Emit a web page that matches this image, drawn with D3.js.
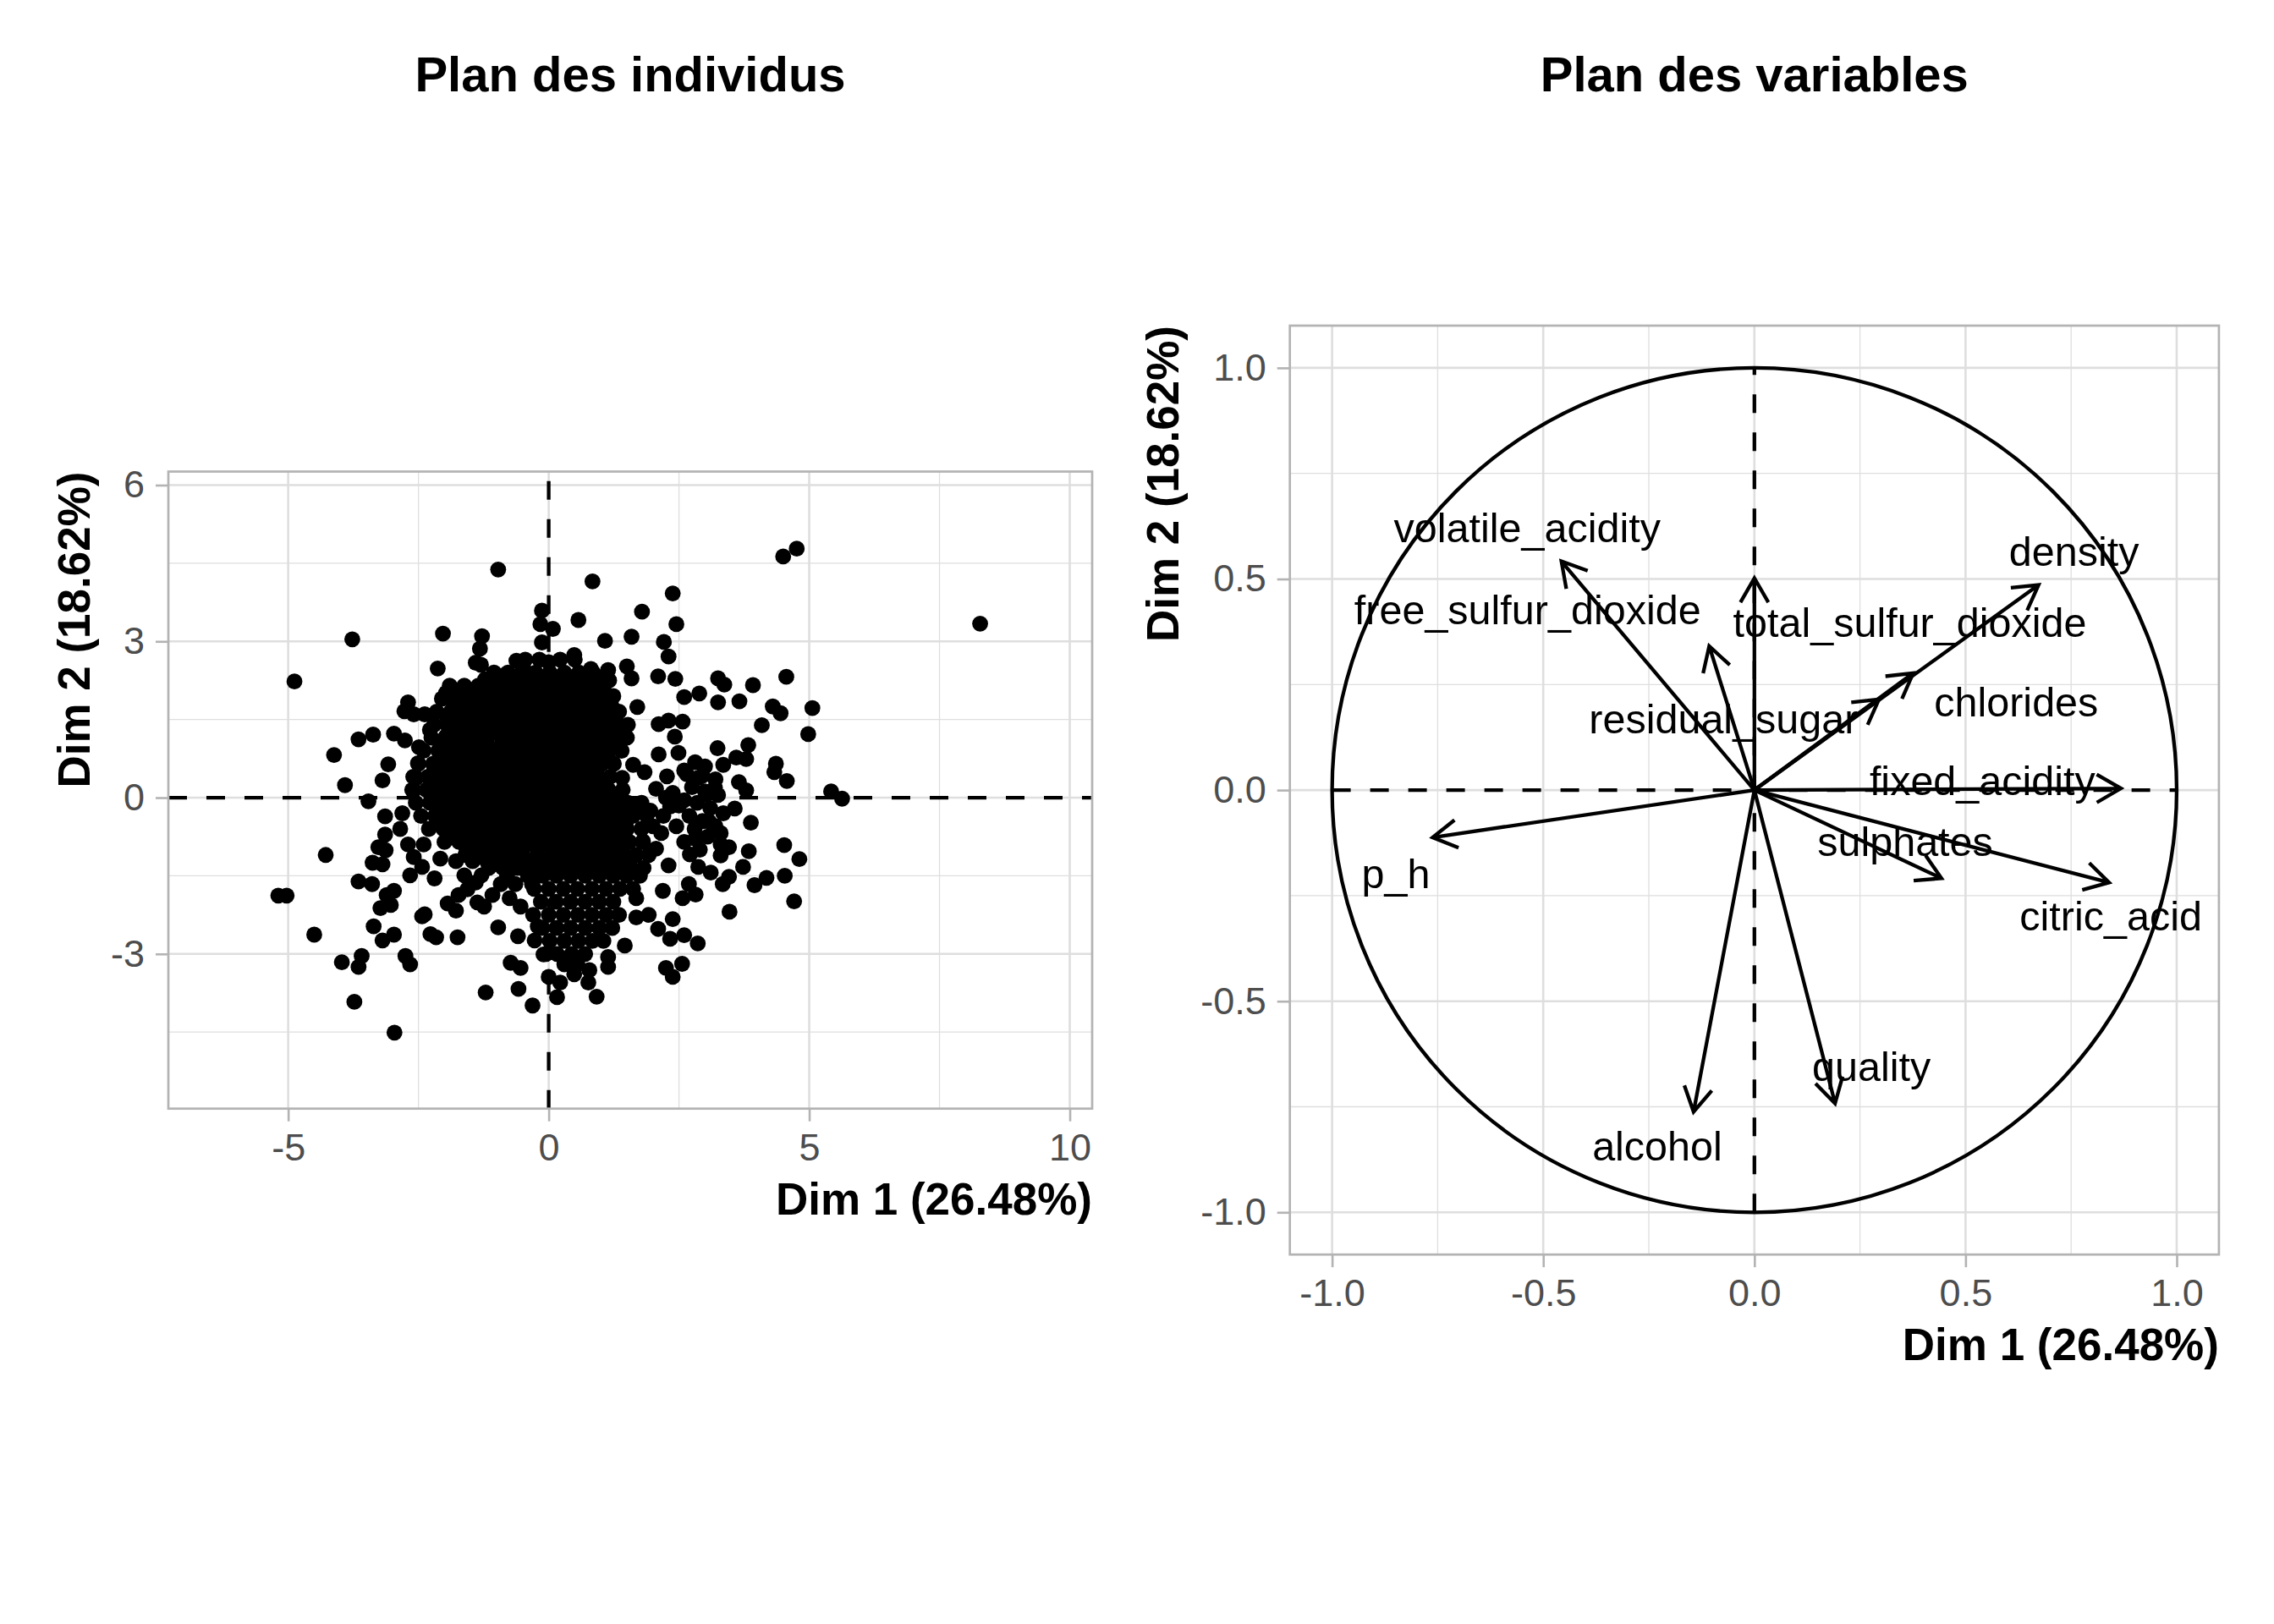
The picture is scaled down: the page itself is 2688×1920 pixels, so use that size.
<!DOCTYPE html>
<html>
<head>
<meta charset="utf-8">
<script src="https://cdn.jsdelivr.net/npm/d3@7"></script>
<style>
  body { margin: 0; background: #fff; }
  text { font-family: "Liberation Sans", Arial, Helvetica, sans-serif; }
</style>
</head>
<body>
<svg id="chart" width="2688" height="1920"></svg>
<script>
// ---- individuals (Dim 1, Dim 2) ----
const scatteredPoints = [
  [-0.97,4.38],[-3.77,3.04],[-4.88,2.23],[-2.03,3.15],[-1.28,3.10],[-1.32,2.86],[-1.40,2.59],[-1.30,2.55],
  [-2.13,2.48],[-0.13,3.59],[-0.16,3.33],[-0.13,2.98],[-0.62,2.63],[-0.43,2.41],[-0.86,2.35],[-1.97,2.01],
  [-1.84,2.03],[-1.37,2.01],[-1.63,1.89],[-2.70,1.83],[-2.77,1.66],[-2.59,1.60],[-2.38,1.60],[-2.28,1.30],
  [-3.37,1.21],[-3.65,1.12],[-2.97,1.23],[-2.76,1.10],[-2.49,0.97],[-4.12,0.82],[-3.08,0.64],[-3.19,0.33],
  [-3.91,0.24],[-2.51,0.66],[-2.19,0.58],[-2.54,0.38],[-2.59,0.14],[-3.46,-0.07],[-1.94,1.52],[-1.97,1.18],
  [-2.05,0.28],[-0.75,2.06],[-1.08,2.12],[0.00,2.60],
  [4.76,4.78],[4.50,4.63],[0.84,4.15],[2.38,3.92],[1.79,3.57],[0.57,3.41],[0.08,3.24],[2.45,3.33],
  [1.59,3.09],[1.08,3.01],[2.21,2.99],[2.30,2.71],[0.49,2.74],[1.50,2.52],[1.59,2.29],[1.14,2.45],
  [1.16,2.25],[2.10,2.33],[2.43,2.28],[0.81,2.47],[3.25,2.29],[3.37,2.17],[3.92,2.16],[4.56,2.32],
  [2.60,1.93],[2.89,2.00],[3.25,1.83],[3.66,1.85],[4.30,1.75],[4.45,1.62],[5.06,1.72],[4.09,1.39],
  [4.98,1.22],[1.70,1.74],[1.24,1.95],[2.11,1.41],[2.30,1.48],[2.57,1.46],[2.42,1.17],[2.11,0.83],
  [2.49,0.86],[3.24,0.95],[3.83,1.01],[3.60,0.77],[3.79,0.74],[4.36,0.65],[4.33,0.49],[4.57,0.32],
  [5.42,0.12],[2.81,0.68],[3.00,0.60],[3.35,0.63],[3.65,0.30],[3.79,0.14],[2.60,0.52],[2.87,0.38],
  [3.19,0.19],[2.27,0.41],[1.84,0.49],[1.62,0.63],[1.35,1.03],[1.33,1.41],[1.14,1.52],[0.92,1.79],
  [1.41,0.38],[2.06,0.17],[2.38,0.09],[3.03,0.06],[8.28,3.34],
  [-4.28,-1.10],[-5.19,-1.88],[-5.03,-1.88],[-4.50,-2.63],[-3.97,-3.16],[-3.59,-3.04],[-3.65,-3.25],[-3.73,-3.92],
  [-2.96,-4.51],[-3.65,-1.61],[-3.39,-1.66],[-3.14,-0.36],[-2.81,-0.30],[-2.85,-0.60],[-3.14,-0.71],[-3.27,-0.95],
  [-3.13,-1.01],[-3.38,-1.25],[-3.19,-1.28],[-2.97,-1.79],[-3.11,-1.87],[-3.23,-2.12],[-3.03,-2.06],[-3.36,-2.47],
  [-3.19,-2.74],[-2.97,-2.63],[-2.75,-3.04],[-2.66,-3.20],[-2.66,-1.49],[-2.43,-2.28],[-2.38,-2.24],[-2.27,-2.62],
  [-2.16,-2.68],[-1.75,-2.68],[-2.70,-0.90],[-2.59,-1.14],[-2.40,-0.90],[-2.43,-1.33],[-2.19,-1.55],[-2.08,-1.17],
  [-1.94,-2.03],[-1.78,-2.17],[-1.73,-1.87],[-1.37,-2.01],[-1.24,-2.09],[-1.56,-1.76],[-1.40,-1.63],[-1.08,-1.87],
  [-0.92,-1.66],[-0.97,-2.49],[-0.59,-2.66],[-0.73,-3.17],[-0.54,-3.27],[-0.58,-3.67],[-1.21,-3.74],[-0.31,-3.99],
  [-0.10,-3.01],[0.00,-3.44],[-0.75,-1.93],[-0.54,-2.09],[-0.64,-1.66],[-0.32,-1.66],[-0.48,-1.33],[-0.21,-2.47],
  [-0.27,-2.74],[-0.86,-1.28],[-1.29,-1.49],[-1.62,-1.49],[-1.78,-1.22],[-1.46,-1.22],
  [3.57,-0.21],[3.88,-0.48],[4.52,-0.91],[4.81,-1.18],[4.53,-1.50],[4.71,-1.99],[4.18,-1.54],[3.95,-1.68],
  [3.73,-1.33],[3.84,-1.03],[3.46,-0.95],[3.46,-1.52],[3.34,-1.66],[3.47,-2.19],[3.11,-1.44],[2.87,-1.33],
  [2.71,-1.09],[3.30,-1.11],[5.63,-0.02],[2.69,-1.66],[2.82,-1.86],[2.57,-1.93],[2.38,-2.33],[2.60,-2.64],
  [2.86,-2.80],[2.33,-2.71],[2.10,-2.52],[2.25,-3.27],[2.56,-3.19],[2.38,-3.44],[1.46,-2.84],[1.14,-3.25],
  [0.76,-3.55],[0.92,-3.82],[0.16,-3.83],[0.22,-3.55],[0.78,-3.31],[1.92,-2.25],[1.68,-2.30],[2.19,-1.79],
  [2.30,-1.30],[2.16,-0.68],[2.33,-0.17],[3.08,-0.46],[3.30,-0.68],[2.81,-0.79],[2.06,-0.98],[1.81,-0.84],
  [1.68,-1.93],[1.14,-3.06],[0.49,-3.39],
  [2.65,0.45],[2.95,0.42],[3.20,0.35],[2.75,0.20],[3.00,0.12],[3.25,0.05],[2.60,-0.05],[2.85,-0.10],
  [3.10,-0.20],[3.35,-0.30],[2.70,-0.35],[2.95,-0.45],[3.20,-0.55],[2.80,-0.60],[3.05,-0.75],[2.60,-0.85],
  [3.30,-0.90],[2.90,-1.00],[2.45,-0.55],[2.20,-0.35],[2.50,-0.15],[2.00,-0.55],[1.95,-0.25],[2.25,0.00]
];

// dense core of the cloud, row by row: [Dim 2, [Dim 1 values]]
const coreRows = [
  [2.65, [-0.45,-0.18,0.22,0.50]],
  [2.40, [-1.05,-0.78,-0.52,-0.25,0.02,0.30,0.58,0.85]],
  [2.27, [-1.22,-0.95,-0.68,-0.40,-0.12,0.15,0.42,0.70,0.95]],
  [2.15, [-1.90,-1.62,-1.35,-1.10,-0.82,-0.55,-0.28,0.00,0.27,0.55,0.82,1.05]],
  [2.02, [-1.68,-1.40,-1.12,-0.85,-0.58,-0.30,-0.02,0.25,0.52,0.80,1.08]],
  [1.90, [-2.05,-1.80,-1.52,-1.25,-0.98,-0.70,-0.42,-0.15,0.12,0.40,0.68,0.95,1.20]],
  [1.77, [-1.82,-1.55,-1.28,-1.00,-0.72,-0.45,-0.18,0.10,0.38,0.65,0.92,1.20]],
  [1.65, [-2.15,-1.88,-1.60,-1.33,-1.06,-0.80,-0.52,-0.25,0.02,0.30,0.57,0.84,1.10,1.35]],
  [1.52, [-1.82,-1.55,-1.27,-1.00,-0.72,-0.46,-0.18,0.10,0.37,0.64,0.92,1.18]],
  [1.40, [-2.20,-1.95,-1.68,-1.40,-1.12,-0.86,-0.60,-0.32,-0.05,0.22,0.50,0.78,1.05,1.30,1.52]],
  [1.27, [-1.85,-1.56,-1.28,-1.02,-0.75,-0.48,-0.22,0.05,0.32,0.60,0.86,1.12,1.40]],
  [1.15, [-2.25,-1.98,-1.70,-1.44,-1.18,-0.90,-0.63,-0.36,-0.10,0.18,0.45,0.72,1.00,1.25,1.50]],
  [1.02, [-2.00,-1.72,-1.45,-1.18,-0.90,-0.64,-0.36,-0.08,0.18,0.46,0.74,1.02,1.28]],
  [0.90, [-2.40,-2.12,-1.85,-1.58,-1.30,-1.04,-0.78,-0.50,-0.22,0.05,0.32,0.60,0.88,1.15,1.40]],
  [0.77, [-2.08,-1.80,-1.55,-1.28,-1.00,-0.74,-0.46,-0.20,0.08,0.35,0.62,0.90,1.14]],
  [0.65, [-2.50,-2.22,-1.95,-1.68,-1.42,-1.15,-0.88,-0.60,-0.33,-0.06,0.20,0.48,0.75,1.02,1.25]],
  [0.52, [-2.20,-1.92,-1.64,-1.36,-1.10,-0.82,-0.56,-0.28,0.00,0.26,0.54,0.82]],
  [0.40, [-2.60,-2.32,-2.05,-1.78,-1.50,-1.23,-0.96,-0.70,-0.42,-0.15,0.12,0.40,0.68,0.95,1.18]],
  [0.27, [-2.20,-1.93,-1.66,-1.38,-1.10,-0.84,-0.58,-0.30,-0.02,0.25,0.52,0.80,1.05]],
  [0.15, [-2.62,-2.35,-2.08,-1.80,-1.54,-1.27,-1.00,-0.72,-0.45,-0.18,0.10,0.37,0.64,0.90,1.15,1.42]],
  [0.02, [-2.22,-1.95,-1.68,-1.40,-1.13,-0.86,-0.58,-0.30,-0.04,0.24,0.50,0.77,1.04,1.30]],
  [-0.10, [-2.55,-2.28,-2.00,-1.73,-1.46,-1.20,-0.92,-0.65,-0.38,-0.10,0.17,0.44,0.70,0.98,1.25,1.52,1.78]],
  [-0.23, [-2.14,-1.86,-1.60,-1.32,-1.05,-0.78,-0.52,-0.24,0.04,0.30,0.57,0.84,1.12,1.38,1.66]],
  [-0.35, [-2.45,-2.18,-1.90,-1.63,-1.36,-1.10,-0.82,-0.55,-0.28,0.00,0.27,0.54,0.80,1.08,1.35,1.62,1.88]],
  [-0.48, [-2.04,-1.77,-1.50,-1.22,-0.96,-0.68,-0.42,-0.14,0.13,0.40,0.68,0.95,1.22,1.48]],
  [-0.60, [-2.30,-2.02,-1.75,-1.48,-1.20,-0.94,-0.66,-0.40,-0.12,0.15,0.42,0.70,0.97,1.24,1.50,1.78]],
  [-0.73, [-1.88,-1.60,-1.32,-1.05,-0.78,-0.50,-0.22,0.06,0.33,0.60,0.87,1.14,1.42]],
  [-0.85, [-2.00,-1.72,-1.45,-1.18,-0.90,-0.62,-0.36,-0.08,0.20,0.47,0.74,1.00,1.28,1.55,1.80]],
  [-0.98, [-1.58,-1.30,-1.04,-0.76,-0.50,-0.22,0.06,0.33,0.60,0.88,1.15,1.42]],
  [-1.10, [-1.60,-1.32,-1.05,-0.78,-0.50,-0.22,0.05,0.32,0.60,0.87,1.14,1.40,1.68,1.92]],
  [-1.23, [-1.18,-0.92,-0.64,-0.36,-0.08,0.20,0.46,0.74,1.00,1.28,1.55]],
  [-1.35, [-1.15,-0.88,-0.60,-0.33,-0.06,0.22,0.50,0.76,1.03,1.30,1.58,1.82]],
  [-1.50, [-0.80,-0.40,-0.12,0.15,0.42,0.70,0.97,1.24,1.50,1.75]],
  [-1.75, [-0.28,0.00,0.28,0.55,0.83,1.10,1.37,1.62]],
  [-2.00, [-0.15,0.14,0.42,0.70,0.97,1.24]],
  [-2.25, [-0.30,0.00,0.28,0.56,0.83,1.10,1.35]],
  [-2.50, [-0.12,0.15,0.42,0.70,0.97,1.22]],
  [-2.75, [0.02,0.30,0.57,0.84,1.05]],
  [-3.00, [-0.05,0.16,0.44,0.70]],
  [-3.20, [0.30,0.55]]
];

// ---- variables (correlation circle) ----
const variableNames = ["volatile_acidity", "free_sulfur_dioxide", "total_sulfur_dioxide", "residual_sugar",
  "chlorides", "density", "fixed_acidity", "sulphates", "citric_acid", "p_h", "quality", "alcohol"];
const variableDim1 = [-0.457, -0.107, 0.000, 0.295, 0.376, 0.673, 0.868, 0.443, 0.840, -0.762, 0.191, -0.144];
const variableDim2 = [0.542, 0.341, 0.502, 0.215, 0.277, 0.486, 0.004, -0.209, -0.219, -0.112, -0.742, -0.762];
// where the (repelled) labels ended up
const labelDim1 = [-0.538, -0.537, 0.368, -0.073, 0.620, 0.757, 0.540, 0.357, 0.844, -0.849, 0.277, -0.230];
const labelDim2 = [0.588, 0.392, 0.362, 0.134, 0.174, 0.531, -0.012, -0.156, -0.333, -0.233, -0.688, -0.878];

// ---- axes ----
const indXDomain = [-7.3, 10.43], indYDomain = [-5.97, 6.26];
const indXTicks = [-5, 0, 5, 10], indXLabels = ["-5", "0", "5", "10"], indXMinor = [-2.5, 2.5, 7.5];
const indYTicks = [-3, 0, 3, 6], indYLabels = ["-3", "0", "3", "6"], indYMinor = [-4.5, -1.5, 1.5, 4.5];
const varDomain = [-1.1, 1.1];
const varTicks = [-1, -0.5, 0, 0.5, 1], varLabels = ["-1.0", "-0.5", "0.0", "0.5", "1.0"];
const varMinor = [-0.75, -0.25, 0.25, 0.75];

const xTitle = "Dim 1 (26.48%)", yTitle = "Dim 2 (18.62%)";

const svg = d3.select("#chart");
const FONT_TICK = 45, FONT_AXIS = 53, FONT_TITLE = 58, FONT_LABEL = 48.5;
const LINE = 4.3, DASH = "22,23";

function panelFrame(box, xDom, yDom, xt, xl, xm, yt, yl, ym, title) {
  const x = d3.scaleLinear().domain(xDom).range([box.left, box.right]);
  const y = d3.scaleLinear().domain(yDom).range([box.bottom, box.top]);
  const g = svg.append("g");

  // minor then major grid
  g.selectAll(null).data(xm).join("line")
    .attr("x1", d => x(d)).attr("x2", d => x(d)).attr("y1", box.top).attr("y2", box.bottom)
    .attr("stroke", "#DEDEDE").attr("stroke-width", 1.3);
  g.selectAll(null).data(ym).join("line")
    .attr("y1", d => y(d)).attr("y2", d => y(d)).attr("x1", box.left).attr("x2", box.right)
    .attr("stroke", "#DEDEDE").attr("stroke-width", 1.3);
  g.selectAll(null).data(xt).join("line")
    .attr("x1", d => x(d)).attr("x2", d => x(d)).attr("y1", box.top).attr("y2", box.bottom)
    .attr("stroke", "#DEDEDE").attr("stroke-width", 2.6);
  g.selectAll(null).data(yt).join("line")
    .attr("y1", d => y(d)).attr("y2", d => y(d)).attr("x1", box.left).attr("x2", box.right)
    .attr("stroke", "#DEDEDE").attr("stroke-width", 2.6);

  const xAxis = g.append("g").attr("transform", `translate(0,${box.bottom})`)
    .call(d3.axisBottom(x).tickValues(xt).tickFormat((d, i) => xl[i]).tickSize(15).tickPadding(14));
  const yAxis = g.append("g").attr("transform", `translate(${box.left},0)`)
    .call(d3.axisLeft(y).tickValues(yt).tickFormat((d, i) => yl[i]).tickSize(15).tickPadding(13));
  [xAxis, yAxis].forEach(a => {
    a.attr("font-family", null).attr("font-size", null);
    a.select(".domain").remove();
    a.selectAll(".tick line").attr("stroke", "#B3B3B3").attr("stroke-width", 2.6);
    a.selectAll(".tick text").attr("fill", "#4D4D4D").style("font-size", FONT_TICK + "px");
  });

  g.append("text").attr("x", box.right).attr("y", box.bottom + 125)
    .attr("text-anchor", "end").attr("font-weight", "bold").style("font-size", FONT_AXIS + "px")
    .text(xTitle);
  g.append("text").attr("transform", `translate(${box.yTitleX},${box.top}) rotate(-90)`)
    .attr("text-anchor", "end").attr("font-weight", "bold").style("font-size", FONT_AXIS + "px")
    .text(yTitle);
  g.append("text").attr("x", (box.left + box.right) / 2).attr("y", 108)
    .attr("text-anchor", "middle").attr("font-weight", "bold").style("font-size", FONT_TITLE + "px")
    .text(title);

  const content = g.append("g");
  const border = () => g.append("rect")
    .attr("x", box.left).attr("y", box.top)
    .attr("width", box.right - box.left).attr("height", box.bottom - box.top)
    .attr("fill", "none").attr("stroke", "#B3B3B3").attr("stroke-width", 2.7);
  return { x, y, content, border };
}

// ---------- left: individuals ----------
const ind = panelFrame({ left: 199, right: 1291, top: 557.5, bottom: 1310.7, yTitleX: 106 },
  indXDomain, indYDomain, indXTicks, indXLabels, indXMinor, indYTicks, indYLabels, indYMinor,
  "Plan des individus");

ind.content.append("line")
  .attr("x1", ind.x(indXDomain[0])).attr("x2", ind.x(indXDomain[1]))
  .attr("y1", ind.y(0)).attr("y2", ind.y(0))
  .attr("stroke", "#000").attr("stroke-width", LINE).attr("stroke-dasharray", DASH);
ind.content.append("line")
  .attr("x1", ind.x(0)).attr("x2", ind.x(0))
  .attr("y1", ind.y(indYDomain[0])).attr("y2", ind.y(indYDomain[1]))
  .attr("stroke", "#000").attr("stroke-width", LINE).attr("stroke-dasharray", DASH);

const corePoints = coreRows.flatMap(([yv, xs]) => xs.map(xv => [xv, yv]));
ind.content.selectAll("circle.pt").data(corePoints.concat(scatteredPoints)).join("circle")
  .attr("class", "pt")
  .attr("cx", d => ind.x(d[0])).attr("cy", d => ind.y(d[1]))
  .attr("r", 9.4).attr("fill", "#000");
ind.border();

// ---------- right: variables ----------
const vars = panelFrame({ left: 1524.7, right: 2622.9, top: 385, bottom: 1483.2, yTitleX: 1393 },
  varDomain, varDomain, varTicks, varLabels, varMinor, varTicks, varLabels, varMinor,
  "Plan des variables");
const vx = vars.x, vy = vars.y;

vars.content.append("circle")
  .attr("cx", vx(0)).attr("cy", vy(0)).attr("r", vx(1) - vx(0))
  .attr("fill", "none").attr("stroke", "#000").attr("stroke-width", LINE);
vars.content.append("line")
  .attr("x1", vx(-1)).attr("x2", vx(1)).attr("y1", vy(0)).attr("y2", vy(0))
  .attr("stroke", "#000").attr("stroke-width", LINE).attr("stroke-dasharray", DASH);
vars.content.append("line")
  .attr("x1", vx(0)).attr("x2", vx(0)).attr("y1", vy(-1)).attr("y2", vy(1))
  .attr("stroke", "#000").attr("stroke-width", LINE).attr("stroke-dasharray", DASH);

const HEAD = 33, HEAD_ANGLE = Math.PI / 6;
const arrows = variableNames.map((name, i) => ({
  name, x: variableDim1[i], y: variableDim2[i], lx: labelDim1[i], ly: labelDim2[i]
}));
vars.content.selectAll("path.arrow").data(arrows).join("path")
  .attr("class", "arrow")
  .attr("d", d => {
    const x0 = vx(0), y0 = vy(0), x1 = vx(d.x), y1 = vy(d.y);
    const a = Math.atan2(y1 - y0, x1 - x0);
    const h1 = [x1 - HEAD * Math.cos(a - HEAD_ANGLE), y1 - HEAD * Math.sin(a - HEAD_ANGLE)];
    const h2 = [x1 - HEAD * Math.cos(a + HEAD_ANGLE), y1 - HEAD * Math.sin(a + HEAD_ANGLE)];
    return `M${x0},${y0}L${x1},${y1}M${h1[0]},${h1[1]}L${x1},${y1}L${h2[0]},${h2[1]}`;
  })
  .attr("fill", "none").attr("stroke", "#000").attr("stroke-width", LINE);

vars.content.selectAll("text.lab").data(arrows).join("text")
  .attr("class", "lab")
  .attr("x", d => vx(d.lx)).attr("y", d => vy(d.ly))
  .attr("text-anchor", "middle").style("font-size", FONT_LABEL + "px").attr("fill", "#000")
  .text(d => d.name);
vars.border();
</script>
</body>
</html>
